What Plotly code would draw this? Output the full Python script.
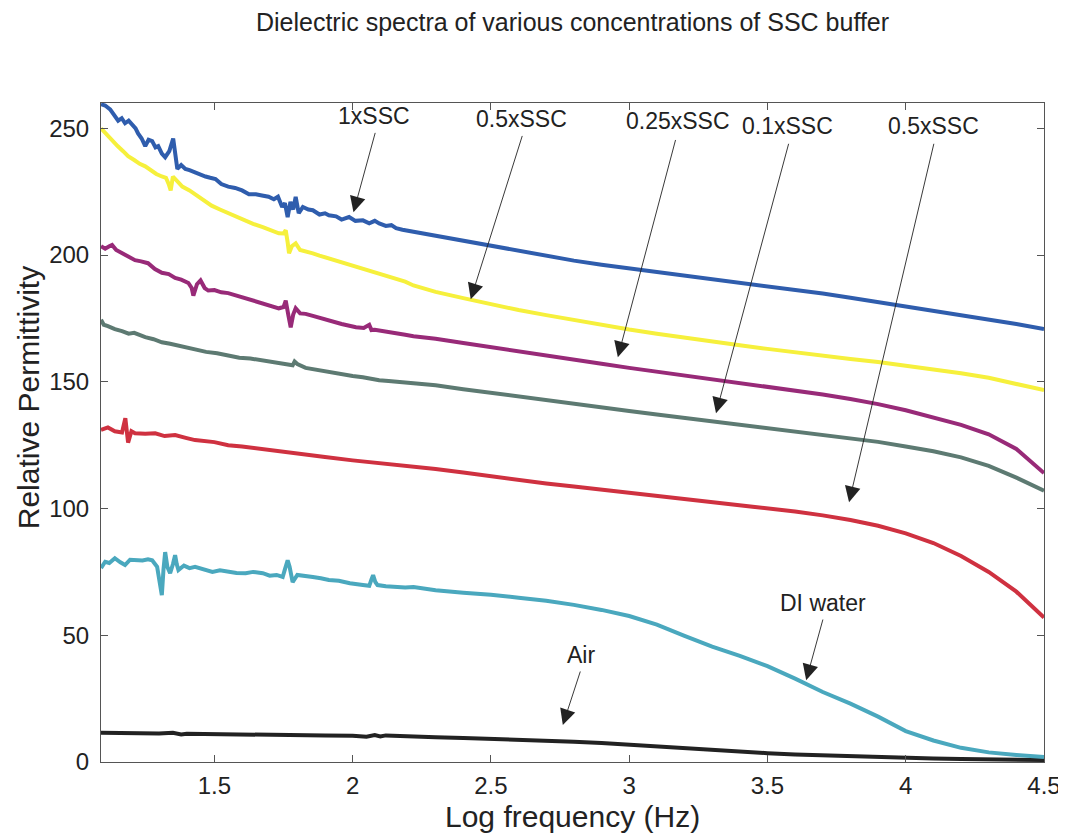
import plotly.graph_objects as go

# shared smooth tail of the spectra (log frequency)
smooth_x = [2.3, 2.4, 2.5, 2.6, 2.7, 2.8, 2.9, 3.0, 3.1, 3.2, 3.3, 3.4,
            3.5, 3.6, 3.7, 3.8, 3.9, 4.0, 4.1, 4.2, 4.3, 4.4, 4.5]

# 1xSSC
ssc1_x = [1.09, 1.105, 1.123, 1.14, 1.152, 1.165, 1.177, 1.19, 1.203, 1.215, 1.224, 1.237,
          1.25, 1.262, 1.275, 1.287, 1.297, 1.31, 1.322, 1.337, 1.351, 1.359, 1.366, 1.38,
          1.395, 1.41, 1.43, 1.45, 1.468, 1.485, 1.504, 1.525, 1.55, 1.575, 1.6, 1.625,
          1.65, 1.672, 1.696, 1.715, 1.73, 1.745, 1.755, 1.765, 1.775, 1.785, 1.794, 1.805,
          1.82, 1.84, 1.856, 1.88, 1.9, 1.914, 1.94, 1.96, 1.987, 2.01, 2.037, 2.06,
          2.08, 2.096, 2.12, 2.14, 2.157, 2.18, 2.2, 2.22] + smooth_x
ssc1_y = [259.5, 259, 257.5, 255, 253, 254, 252, 253, 251.5, 250, 248, 246,
          243, 245.5, 245, 242.5, 243, 240, 238.6, 241, 246, 240, 234, 235.5,
          234, 233.5, 232.5, 231.5, 231, 230.5, 230, 228, 227, 226.5, 225.5, 224,
          224, 223.5, 223, 222, 223, 219, 220.5, 215, 221, 218, 223, 216.5,
          219, 218, 217.7, 216, 216.5, 215.7, 215.3, 214, 215, 213.5, 213.7, 212.5,
          213.5, 212.5, 211.5, 211.8, 210.6, 210, 209.6, 209,
          207.5, 205.5, 203.8, 201.5, 199.5, 197.8, 196.2, 194.8, 193.3, 192, 190.6, 189.2,
          187.8, 186.3, 184.8, 183.2, 181.5, 179.6, 177.8, 176.2, 174.5, 172.8, 170.8]

# 0.5xSSC
ssc05_x = [1.09, 1.11, 1.13, 1.15, 1.17, 1.188, 1.21, 1.23, 1.25, 1.27, 1.29, 1.31,
           1.325, 1.335, 1.342, 1.35, 1.365, 1.384, 1.41, 1.43, 1.46, 1.49, 1.52, 1.55,
           1.58, 1.61, 1.64, 1.675, 1.705, 1.733, 1.75, 1.758, 1.765, 1.77, 1.78, 1.794,
           1.81, 1.83, 1.856, 1.88, 1.914, 1.95, 1.99, 2.037, 2.08, 2.12, 2.157, 2.19,
           2.22] + smooth_x
ssc05_y = [250, 247.5, 245, 243, 241, 239, 237.5, 236, 235, 233.5, 232, 231,
           230.5, 228, 225.5, 231, 229, 227, 225.5, 224, 221.5, 219.5, 218, 216.5,
           215, 213.7, 212.3, 211, 209.8, 208.6, 208.5, 209.8, 205, 200.7, 203.5, 204.6,
           202, 201.5, 200.7, 199.8, 198.7, 197.5, 196.3, 194.8, 193.4, 192, 190.9, 189.5,
           188,
           185.5, 183, 180.5, 178.3, 176.3, 174.3, 172.4, 170.6, 169, 167.4, 165.8, 164.4,
           163, 161.6, 160.3, 159, 157.8, 156.4, 155, 153.4, 151.6, 149.3, 146.7]

# 0.25xSSC
ssc025_x = [1.09, 1.105, 1.12, 1.13, 1.145, 1.166, 1.19, 1.213, 1.235, 1.26, 1.285, 1.31,
            1.335, 1.358, 1.38, 1.406, 1.418, 1.424, 1.437, 1.45, 1.465, 1.478, 1.5, 1.525,
            1.55, 1.58, 1.61, 1.64, 1.675, 1.705, 1.733, 1.75, 1.758, 1.768, 1.776, 1.785,
            1.794, 1.81, 1.83, 1.856, 1.885, 1.914, 1.96, 2.012, 2.04, 2.06, 2.068, 2.08,
            2.12, 2.157, 2.19, 2.22] + smooth_x
ssc025_y = [203.5, 202.5, 203.5, 204, 202, 200.7, 199.5, 198, 197.5, 196.8, 194.5, 193,
            192.5, 191, 190.3, 189, 187, 184, 188.5, 190, 187, 186, 186.2, 185.3,
            185, 184, 183, 182, 181, 180, 179, 179.5, 182, 176, 171.5, 176.5,
            179, 177, 176.8, 176, 175, 174, 172.8, 171.5, 171.2, 172.5, 170.4, 170.5,
            169.8, 169.5, 168.6, 168,
            167, 165.3, 163.6, 161.9, 160.3, 158.7, 157.1, 155.5, 154, 152.6, 151.2, 149.7,
            148.2, 146.6, 145, 143.2, 141.2, 138.8, 136, 133, 129.3, 123.5, 114]

# 0.1xSSC
ssc01_x = [1.09, 1.1, 1.115, 1.14, 1.166, 1.19, 1.21, 1.25, 1.28, 1.31, 1.34, 1.37,
           1.4, 1.43, 1.47, 1.51, 1.55, 1.59, 1.63, 1.675, 1.72, 1.76, 1.783, 1.79,
           1.8, 1.83, 1.87, 1.914, 1.96, 2.0, 2.037, 2.07, 2.096, 2.13, 2.16, 2.19,
           2.22] + smooth_x
ssc01_y = [174.5, 172.5, 172, 170.8, 170, 169, 169.3, 167.6, 166.8, 165.6, 165, 164.3,
           163.5, 163, 161.8, 161.3, 160.5, 159.5, 159.2, 158.5, 157.5, 157, 156.5, 158,
           157, 155.5, 154.7, 153.8, 152.8, 152.3, 151.8, 151, 150.6, 150.3, 150, 149.6,
           149.2,
           148.6, 147.1, 145.6, 144.1, 142.7, 141.3, 139.9, 138.5, 137.1, 135.8, 134.5, 133.2,
           131.9, 130.6, 129.2, 127.8, 126.3, 124.5, 122.6, 120.2, 116.8, 112.2, 107]

# second 0.5xSSC trace (red)
red_x = [1.09, 1.115, 1.14, 1.166, 1.178, 1.188, 1.2, 1.213, 1.25, 1.286, 1.32, 1.358,
         1.4, 1.43, 1.5, 1.55, 1.6, 1.7, 1.8, 1.9, 2.0, 2.1, 2.2] + smooth_x
red_y = [131, 132, 130.5, 130, 135.6, 126, 130.5, 129.7, 129.5, 129.7, 128.6, 129,
         127.8, 127, 126.2, 125, 124.5, 123, 121.7, 120.3, 119, 118, 116.8,
         115.6, 114.2, 112.7, 111.2, 109.9, 108.7, 107.5, 106.2, 104.9, 103.7, 102.5, 101.3,
         100.1, 98.8, 97.3, 95.5, 93.2, 90.2, 86.4, 81.3, 75, 67.2, 57]

# DI water
water_x = [1.09, 1.105, 1.12, 1.14, 1.16, 1.177, 1.195, 1.213, 1.24, 1.26, 1.275, 1.293,
           1.303, 1.31, 1.316, 1.322, 1.33, 1.34, 1.35, 1.358, 1.364, 1.37, 1.39, 1.41,
           1.43, 1.46, 1.493, 1.52, 1.55, 1.58, 1.613, 1.64, 1.675, 1.7, 1.725, 1.747,
           1.755, 1.765, 1.772, 1.783, 1.8, 1.83, 1.856, 1.885, 1.914, 1.95, 1.99, 2.037,
           2.06, 2.068, 2.074, 2.082, 2.09, 2.12, 2.157, 2.19, 2.22] + smooth_x
water_y = [76.5, 79, 78.5, 80.4, 78.8, 77.7, 79.8, 79.6, 79.5, 80, 79.6, 77,
           70, 65.8, 76, 82.8, 77, 74.5, 78, 81.6, 78, 75.7, 77.5, 76.5,
           77, 76, 75, 75.6, 75, 74.6, 74.5, 75, 74.5, 73.5, 73.8, 73,
           76, 79.6, 77, 71, 73.8, 73.5, 73, 72.5, 71.8, 71.5, 70.5, 69.8,
           69.5, 72, 73.7, 71, 69.8, 69.3, 69, 68.8, 69,
           67.8, 66.8, 66, 64.8, 63.6, 62, 60, 57.6, 54.2, 49.8, 45.5, 41.9,
           37.8, 32.9, 27.6, 23, 17.9, 12.2, 8.5, 5.6, 3.8, 2.8, 2]

# Air
air_x = [1.09, 1.2, 1.3, 1.35, 1.38, 1.4, 1.5, 1.6, 1.7, 1.8, 1.9, 2.0,
         2.05, 2.08, 2.1, 2.12, 2.2] + smooth_x
air_y = [11.5, 11.3, 11.2, 11.5, 10.9, 11.1, 10.9, 10.8, 10.7, 10.6, 10.5, 10.4,
         10.0, 10.6, 10.1, 10.5, 10.1,
         9.8, 9.5, 9.2, 8.8, 8.4, 8.0, 7.5, 6.8, 6.1, 5.3, 4.6, 4.0,
         3.5, 3.0, 2.6, 2.2, 1.9, 1.6, 1.4, 1.2, 1.0, 0.9, 0.8]

series = [
    ("Air", air_x, air_y, "#222222"),
    ("DI water", water_x, water_y, "#4aa8be"),
    ("0.5xSSC (b)", red_x, red_y, "#cf3140"),
    ("0.1xSSC", ssc01_x, ssc01_y, "#5d7a72"),
    ("0.25xSSC", ssc025_x, ssc025_y, "#982a78"),
    ("0.5xSSC", ssc05_x, ssc05_y, "#f6f03c"),
    ("1xSSC", ssc1_x, ssc1_y, "#2f5dad"),
]

# label text, arrow tip (x, y), arrow tail (x, y), text centre (x, y)
labels = ["1xSSC", "0.5xSSC", "0.25xSSC", "0.1xSSC", "0.5xSSC", "DI water", "Air"]
tips = [(2.003, 216.9), (2.427, 182.6), (2.959, 159.7), (3.314, 137.6),
        (3.795, 102.5), (3.64, 32.3), (2.76, 14.6)]
tails = [(2.083, 248.8), (2.615, 247.6), (3.169, 246.0), (3.578, 244.5),
         (4.103, 244.5), (3.702, 56.8), (2.825, 36.3)]
text_pos = [(2.076, 254.7), (2.611, 253.5), (3.176, 252.8), (3.574, 250.8),
            (4.099, 250.8), (3.702, 62.7), (2.825, 42.2)]

FONT = "Liberation Sans, Arial, sans-serif"
INK = "#222222"

fig = go.Figure()
for name, xs, ys, col in series:
    fig.add_trace(go.Scatter(x=xs, y=ys, mode="lines", name=name,
                             line=dict(color=col, width=4), showlegend=False))

for lab, tip, tail, tp in zip(labels, tips, tails, text_pos):
    fig.add_annotation(x=tip[0], y=tip[1], ax=tail[0], ay=tail[1], axref="x", ayref="y",
                       text="", showarrow=True, arrowhead=2, arrowsize=3.5, arrowwidth=0.9,
                       arrowcolor=INK)
    fig.add_annotation(x=tp[0], y=tp[1], text=lab, showarrow=False,
                       font=dict(family=FONT, size=23, color=INK),
                       xanchor="center", yanchor="middle")

# axis titles as paper annotations so the plot box stays put
fig.add_annotation(x=0.5, y=0, xref="paper", yref="paper", yshift=-54,
                   text="Log frequency (Hz)", showarrow=False,
                   xanchor="center", yanchor="middle",
                   font=dict(family=FONT, size=30, color=INK))
fig.add_annotation(x=0, y=0.552, xref="paper", yref="paper", xshift=-73,
                   text="Relative Permittivity", showarrow=False, textangle=-90,
                   xanchor="center", yanchor="middle",
                   font=dict(family=FONT, size=30, color=INK))

axis_style = dict(showline=True, linecolor="#555555", linewidth=1, mirror="ticks",
                  ticks="inside", ticklen=7, tickcolor="#555555", showgrid=False,
                  zeroline=False, automargin=False, ticklabeloverflow="allow",
                  tickfont=dict(family=FONT, size=24, color=INK))

# page body has an 8px margin, so the figure sits at (8, 8)
fig.update_layout(
    width=1058, height=826,
    margin=dict(l=93, r=22, t=95, b=72),
    paper_bgcolor="white", plot_bgcolor="white",
    title=dict(text="Dielectric spectra of various concentrations of SSC buffer",
               x=0.5, xref="paper", xanchor="center", y=0.983, yanchor="middle",
               font=dict(family=FONT, size=25, color=INK)),
    xaxis=dict(range=[1.09, 4.5], tickvals=[1.5, 2, 2.5, 3, 3.5, 4, 4.5],
               ticktext=["1.5", "2", "2.5", "3", "3.5", "4", "4.5"],
               ticklabelstandoff=2, **axis_style),
    yaxis=dict(range=[0, 260], tickvals=[0, 50, 100, 150, 200, 250],
               ticklabelstandoff=6, **axis_style),
)

fig.write_html("out.html")
